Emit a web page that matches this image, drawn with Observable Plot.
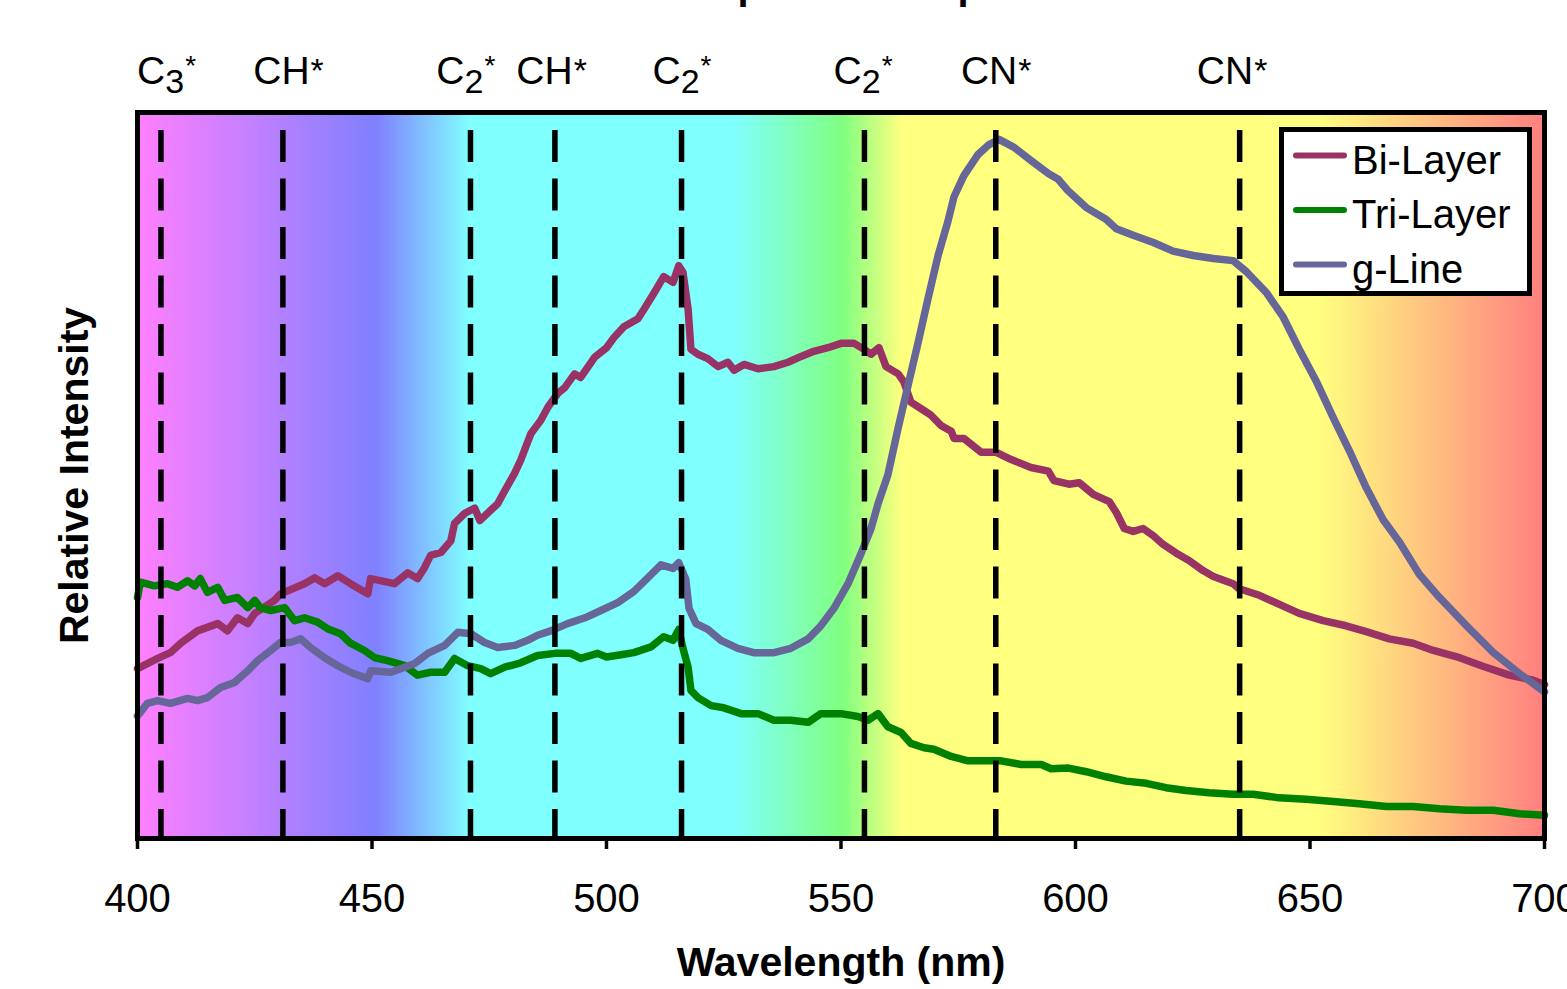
<!DOCTYPE html>
<html>
<head>
<meta charset="utf-8">
<script src="https://cdn.jsdelivr.net/npm/d3@7"></script>
<script src="https://cdn.jsdelivr.net/npm/@observablehq/plot@0.6"></script>
<style>
  html, body { margin: 0; padding: 0; background: white; overflow: hidden; }
  #chart { position: relative; width: 1567px; height: 989px; }
</style>
</head>
<body>
<div id="chart"></div>
<script>
// ---------- data ----------
const xTicks = [400, 450, 500, 550, 600, 650, 700];

// emission band positions (nm) and their labels
const bandNm = [405, 431, 471, 489, 516, 555, 583, 635];
const bandLabelNm = [406.2, 432.2, 470.0, 488.3, 516.1, 554.7, 583.1, 633.4];
const bandBase = ["C", "CH", "C", "CH", "C", "C", "CN", "CN"];
const bandSub = ["3", "", "2", "", "2", "2", "", ""];

// background spectrum colour stops
const spectrumNm = [400, 451, 471, 527, 550.5, 563, 652, 700];
const spectrumColor = ["#ff80ff", "#8080ff", "#80ffff", "#80ffff", "#80ff80", "#ffff80", "#ffff80", "#ff8080"];

const seriesNames = ["Bi-Layer", "Tri-Layer", "g-Line"];
const seriesColors = ["#993366", "#008000", "#666699"];

const biLayer = [
[400.0,23.4],[404.3,24.8],[407.0,25.6],[409.2,26.9],[412.8,28.6],[417.1,29.6],[419.2,28.6],[421.3,30.4],[423.5,29.6],[425.0,31.0],[429.2,32.8],[430.5,33.7],[435.6,35.1],[437.8,35.9],[439.9,35.1],[442.7,36.2],[445.4,35.1],[449.1,33.7],[449.7,35.8],[454.8,35.1],[457.6,36.6],[459.7,35.8],[461.2,37.3],[462.5,39.0],[464.7,39.4],[466.8,41.0],[467.6,43.4],[469.8,44.8],[471.9,45.5],[473.0,43.8],[475.3,45.2],[476.8,46.1],[478.3,47.9],[480.4,50.3],[481.7,52.1],[483.9,55.8],[486.0,57.6],[487.5,59.4],[489.6,61.3],[491.1,62.1],[493.2,64.0],[494.5,63.5],[497.5,66.3],[500.0,67.6],[501.6,69.0],[503.7,70.5],[506.7,71.6],[508.0,72.9],[510.1,75.1],[512.2,77.4],[514.2,76.6],[515.4,78.9],[516.3,78.0],[517.4,72.9],[518.0,67.4],[519.5,66.7],[521.6,66.1],[523.8,65.0],[525.9,65.6],[527.2,64.5],[529.3,65.3],[532.3,64.7],[535.7,65.0],[538.7,65.6],[541.5,66.4],[544.2,67.1],[547.2,67.6],[550.0,68.2],[552.8,68.2],[554.9,67.4],[556.4,66.7],[558.1,67.6],[559.6,65.0],[562.2,64.0],[563.4,62.9],[564.9,60.1],[567.1,59.2],[569.2,58.3],[571.3,56.9],[573.5,56.1],[574.1,55.1],[576.2,55.1],[579.9,53.2],[583.1,53.2],[586.3,52.2],[590.5,51.1],[594.2,50.6],[595.4,49.3],[598.6,48.8],[600.8,49.0],[603.8,47.4],[607.2,46.4],[608.7,44.9],[610.4,42.7],[612.3,42.3],[614.4,42.7],[616.6,41.7],[618.7,40.5],[621.5,39.3],[624.2,38.3],[627.2,36.9],[629.4,36.1],[633.6,35.1],[634.9,34.4],[639.2,33.5],[644.3,32.0],[647.7,31.0],[652.8,30.0],[657.7,29.3],[662.0,28.5],[666.9,27.5],[672.0,26.9],[676.3,25.9],[681.9,24.9],[687.0,23.7],[692.5,22.5],[697.6,21.8],[700.0,21.2]
];

const triLayer = [
[400.0,33.2],[400.6,35.3],[403.6,34.8],[406.4,35.1],[408.5,34.6],[410.7,35.5],[412.2,34.8],[413.4,35.8],[414.9,33.9],[417.1,34.6],[418.6,32.8],[421.3,33.2],[423.5,31.8],[425.0,32.8],[426.2,31.8],[428.4,31.4],[431.4,31.8],[433.5,30.0],[435.6,30.4],[438.4,29.8],[440.5,28.9],[443.3,28.2],[445.4,26.9],[448.4,25.9],[450.6,24.9],[453.3,24.5],[457.0,23.8],[459.7,22.5],[462.5,22.9],[465.5,22.9],[467.6,24.8],[470.4,23.8],[473.2,23.4],[475.3,22.7],[478.3,23.6],[481.7,24.2],[485.3,25.2],[489.0,25.5],[492.4,25.5],[494.5,24.8],[498.1,25.5],[500.0,25.0],[503.1,25.3],[505.8,25.6],[509.5,26.4],[512.2,27.8],[514.2,27.3],[515.4,28.8],[516.3,26.2],[517.4,23.6],[518.0,20.4],[519.5,19.4],[522.3,18.3],[525.0,18.0],[528.7,17.2],[532.3,17.2],[535.7,16.3],[539.3,16.3],[543.0,16.0],[545.7,17.2],[550.0,17.2],[553.6,16.8],[555.8,16.3],[557.9,17.2],[560.0,15.4],[562.8,14.6],[564.9,13.1],[567.7,12.5],[569.8,12.3],[573.5,11.3],[577.1,10.7],[580.5,10.7],[584.1,10.7],[588.4,10.2],[592.7,10.2],[594.8,9.6],[598.5,9.7],[602.3,9.2],[606.5,8.5],[610.8,7.9],[615.1,7.6],[619.3,7.0],[623.6,6.6],[628.5,6.3],[633.6,6.1],[637.9,6.1],[643.4,5.6],[649.2,5.4],[655.0,5.1],[660.5,4.8],[666.3,4.4],[672.0,4.4],[677.6,4.1],[683.4,3.9],[689.1,3.9],[694.7,3.4],[700.0,3.2]
];

const gLine = [
[400.0,16.9],[402.1,18.6],[404.3,19.0],[407.0,18.6],[410.7,19.3],[412.8,19.0],[414.9,19.4],[417.7,20.8],[420.7,21.5],[423.5,23.1],[425.6,24.5],[428.4,25.9],[430.5,27.0],[432.6,27.0],[434.8,27.5],[436.9,26.3],[439.9,24.9],[442.7,23.8],[445.4,22.9],[449.1,22.0],[449.7,23.1],[454.0,22.9],[457.0,23.6],[459.1,24.1],[461.9,25.5],[465.5,26.6],[468.3,28.4],[471.1,28.2],[474.0,27.0],[476.8,26.3],[480.4,26.6],[483.2,27.3],[485.3,28.0],[488.1,28.6],[491.7,29.6],[495.4,30.4],[498.8,31.4],[502.4,32.5],[505.8,34.0],[508.8,35.9],[511.6,37.7],[514.2,37.2],[515.4,38.0],[516.9,35.7],[517.6,31.7],[519.1,29.6],[521.6,28.8],[524.4,27.3],[528.0,26.2],[531.4,25.6],[535.7,25.6],[539.3,26.2],[543.0,27.5],[545.7,29.3],[548.5,31.7],[551.5,35.1],[554.3,39.3],[556.4,42.7],[557.9,46.1],[560.0,50.1],[562.2,56.6],[564.3,62.4],[566.4,68.2],[568.6,74.5],[570.7,80.3],[572.8,85.0],[574.1,88.4],[576.2,91.3],[579.2,94.2],[581.4,95.5],[583.7,96.3],[586.9,95.2],[590.5,93.4],[594.2,91.6],[596.3,90.8],[598.3,89.3],[602.3,86.9],[606.5,85.3],[608.7,84.0],[612.3,83.1],[616.6,82.1],[620.8,80.9],[625.1,80.3],[629.4,79.9],[633.6,79.6],[636.4,78.1],[640.7,75.2],[644.3,71.8],[647.7,67.4],[651.4,62.9],[655.0,57.9],[658.4,53.4],[662.0,48.3],[665.6,43.9],[669.1,40.8],[673.3,36.4],[677.6,33.2],[683.4,29.3],[689.1,25.6],[694.7,22.7],[700.0,20.2]
];

// ---------- derived tables ----------
const seriesData = [biLayer, triLayer, gLine];
const lines = seriesData.flatMap((arr, s) => arr.map(([nm, v]) => ({nm, v, series: seriesNames[s]})));

const spectrumScale = d3.scaleLinear().domain(spectrumNm).range(spectrumColor).interpolate(d3.interpolateRgb).clamp(true);
const bgStep = 0.25;
const bg = d3.range(400, 700, bgStep).map(w => ({x1: w, x2: Math.min(700, w + bgStep * 1.8), c: spectrumScale(w + bgStep / 2)}));

const FONT = "'Liberation Sans', Arial, Helvetica, sans-serif";

const plot = Plot.plot({
  width: 1567,
  height: 989,
  marginLeft: 137,
  marginRight: 23,
  marginTop: 112,
  marginBottom: 151,
  style: {fontFamily: FONT, fontSize: "40px", background: "white", color: "black"},
  x: {domain: [400, 700]},
  y: {domain: [0, 100], axis: null},
  marks: [
    Plot.rect(bg, {x1: "x1", x2: "x2", fill: "c", shapeRendering: "crispEdges"}),
    ...seriesNames.map((name, s) =>
      Plot.line(lines.filter(d => d.series === name), {
        x: "nm", y: "v", stroke: seriesColors[s], strokeWidth: 7.5,
        strokeLinejoin: "round", strokeLinecap: "round"
      })
    ),
    Plot.ruleX(bandNm, {x: d => d, stroke: "black", strokeWidth: 5.5, strokeDasharray: "32,16.5", strokeDashoffset: 30.5}),
    Plot.frame({stroke: "black", strokeWidth: 5}),
    Plot.axisX(xTicks, {tickSize: 11, tickPadding: 34, strokeWidth: 3.5, fontSize: 40, label: null, tickFormat: d => String(d)}),
    Plot.text(bandLabelNm, {
      x: d => d, frameAnchor: "top", dy: -29, lineAnchor: "bottom",
      text: (d, i) => bandBase[i], fontSize: 39, fill: "black"
    }),
    Plot.text(["Wavelength (nm)"], {text: d => d, frameAnchor: "bottom", dy: 137, lineAnchor: "bottom", fontSize: 41, fontWeight: "bold", fill: "black"}),
    Plot.text(["Relative Intensity"], {text: d => d, frameAnchor: "left", textAnchor: "middle", dx: -50, rotate: -90, lineAnchor: "bottom", fontSize: 41, fontWeight: "bold", fill: "black"}),
    Plot.text(["Emission Spectra Comparison"], {text: d => d, frameAnchor: "top", dx: -29, dy: -114, lineAnchor: "bottom", fontSize: 40, fontWeight: "bold", fill: "black"})
  ]
});

// rich text for species labels (subscripts / superscript asterisks): first text mark group
const speciesGroup = d3.select(plot).selectAll('g[aria-label="text"]').filter((_, i) => i === 0);
speciesGroup.selectAll("text").each(function(_, i) {
  const t = d3.select(this);
  t.text(null);
  t.append("tspan").text(bandBase[i]);
  if (bandSub[i]) {
    t.append("tspan").attr("dx", 0).attr("dy", 9).attr("font-size", 34).text(bandSub[i]);
    t.append("tspan").attr("dx", 1).attr("dy", -17.5).attr("font-size", 28).text("*");
  } else {
    t.append("tspan").attr("dx", 1).attr("dy", -2).attr("font-size", 34).text("*");
  }
});

// legend box
const lg = d3.select(plot).append("g").attr("font-family", FONT).attr("text-anchor", "start");
lg.append("rect").attr("x", 1281.5).attr("y", 129.5).attr("width", 248).attr("height", 164)
  .attr("fill", "white").attr("stroke", "black").attr("stroke-width", 5);
const rowY = [155.5, 210, 264.5];
seriesNames.forEach((name, s) => {
  lg.append("line").attr("x1", 1296).attr("x2", 1344).attr("y1", rowY[s]).attr("y2", rowY[s])
    .attr("stroke", seriesColors[s]).attr("stroke-width", 6).attr("stroke-linecap", "round");
  lg.append("text").attr("x", 1352).attr("y", rowY[s] + 18).attr("font-size", 40)
    .attr("fill", "black").attr("text-anchor", "start").text(name);
});

document.getElementById("chart").appendChild(plot);
</script>
</body>
</html>
